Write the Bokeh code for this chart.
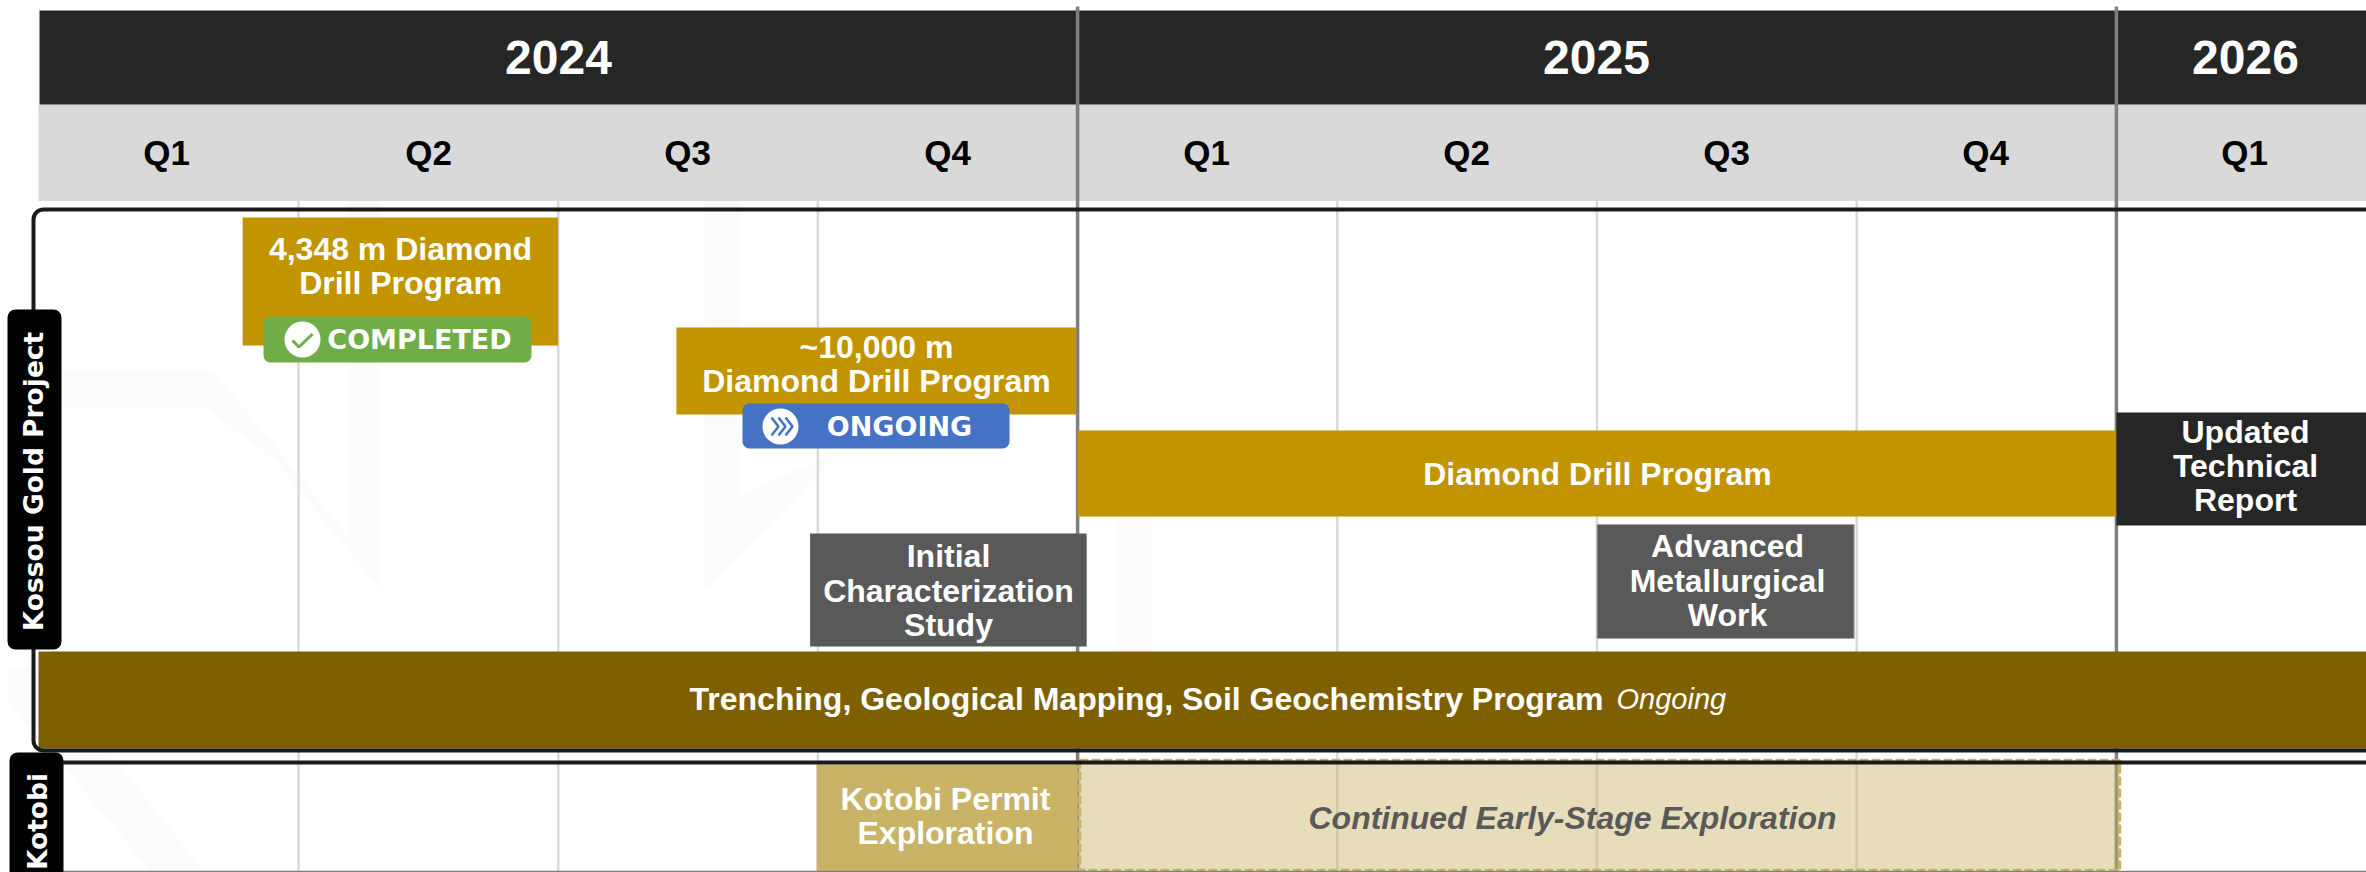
from math import pi
from bokeh.plotting import figure
from bokeh.models import Range1d
from bokeh.core.properties import value
from bokeh.embed import file_html
from bokeh.resources import INLINE

# ---- data: timeline in quarters since 2024 Q1 ----
years = ["2024", "2025", "2026"]
year_start = [0, 4, 8]
year_end = [4, 8, 9]
quarters = ["Q1", "Q2", "Q3", "Q4", "Q1", "Q2", "Q3", "Q4", "Q1"]
task_names = [
    ["4,348 m Diamond", "Drill Program"],
    ["~10,000 m", "Diamond Drill Program"],
    ["Diamond Drill Program"],
    ["Updated", "Technical", "Report"],
    ["Initial", "Characterization", "Study"],
    ["Advanced", "Metallurgical", "Work"],
    ["Kotobi Permit", "Exploration"],
]
task_start = [0.785, 2.455, 4.0, 8.0, 2.97, 6.0, 2.995]
task_end = [2.0, 3.995, 8.0, 9.0, 4.035, 6.99, 4.0]
projects = ["Kossou Gold Project", "Kotobi"]
trench_name = "Trenching, Geological Mapping, Soil Geochemistry Program"
trench_note = "Ongoing"
early_name = "Continued Early-Stage Exploration"
status_labels = ["COMPLETED", "ONGOING"]

# ---- layout ----
X0, QW = 38.3, 259.7
W, H = 2366, 872


def q(px):
    return (px - X0) / QW


task_top = [217, 327, 430, 412, 533, 524, 764]
task_bottom = [345, 414, 516, 525, 646, 638, 872]
task_color = ["#C29400", "#C29400", "#C29400", "#262626", "#595959", "#595959", "#C9B367"]
task_cx = [q(400), q(876), q(1597), q(2245), q(948), q(1727), q(945)]
task_cy = [265.5, 363.5, 473, 465.5, 590, 580, 815.5]
quarter_cx = [166, 428, 687, 947, 1206, 1466, 1726, 1985, 2244]
LH = 34.3
SANS = value("Liberation Sans")
BADGE = value("DejaVu Sans")

p = figure(width=W, height=H, x_range=Range1d(q(0), q(W)), y_range=Range1d(H, 0),
           toolbar_location=None, output_backend="svg", x_axis_type=None, y_axis_type=None,
           min_border=0, outline_line_color=None, background_fill_color="white")
p.grid.visible = False


def poly(pts):
    p.patch([q(a) for a, _ in pts], [b for _, b in pts], fill_color="#FBFBFB", line_color=None)


# faint watermark
poly([(40, 369), (212, 369), (347, 535), (347, 200), (380, 200), (380, 590), (275, 460), (204, 407), (40, 407)])
poly([(704, 200), (740, 200), (740, 495), (843, 448), (704, 590)])
poly([(1116, 516), (1152, 516), (1152, 660), (1116, 660)])
poly([(8, 667), (40, 667), (204, 871), (150, 871), (8, 700)])

# gridlines
for i in [1, 2, 3, 5, 6, 7]:
    p.segment([i], [200], [i], [871], line_color="#D9D9D9", line_width=2.5)

# header bands
p.quad(left=q(38), right=q(W), top=104, bottom=200.5, fill_color="#D9D9D9", line_color=None)
p.quad(left=[max(s, q(39)) for s in year_start], right=[min(e, q(W)) for e in year_end],
       top=10, bottom=104, fill_color="#262626", line_color=None)
p.text([q(558), q(1596), q(2245)], [57] * 3, text=years, text_font=SANS, text_font_style="bold",
       text_font_size="48px", text_color="white", text_align="center", text_baseline="middle")
p.text([q(c) for c in quarter_cx], [152] * len(quarters), text=quarters, text_font=SANS,
       text_font_style="bold", text_font_size="35px", text_color="black", text_align="center",
       text_baseline="middle")

# year dividers
for i in [4, 8]:
    p.segment([i], [6], [i], [871], line_color="#7F7F7F", line_width=3.5)

# bars
p.quad(left=task_start, right=task_end, top=task_top, bottom=task_bottom, fill_color=task_color,
       line_color=None)
p.quad(left=[6.0], right=[6.99], top=[524], bottom=[638], fill_color="#595959", line_color="#A6A6A6",
       line_width=1)
p.quad(left=[q(1079)], right=[q(2119)], top=[760], bottom=[870], fill_color="#C9B367", fill_alpha=0.45,
       line_color="#C9B367", line_width=3.5, line_dash="9 3")
p.quad(left=[q(38)], right=[q(W)], top=[651], bottom=[748], fill_color="#7F6000", line_color=None)

# frames
p.quad(left=[q(33)], right=[q(2500)], top=[209], bottom=[750], fill_color=None, line_color="#1A1A1A",
       line_width=4, border_radius=10)
p.segment([q(60)], [762], [q(W)], [762], line_color="#1A1A1A", line_width=4)
p.segment([q(60)], [871], [q(W)], [871], line_color="#7F7F7F", line_width=1.5)

# bar labels
xs, ys, ts = [], [], []
for names, cx, cy in zip(task_names, task_cx, task_cy):
    for k, t in enumerate(names):
        xs.append(cx)
        ys.append(cy + (k - (len(names) - 1) / 2) * LH)
        ts.append(t)
p.text(xs, ys, text=ts, text_font=SANS, text_font_style="bold", text_font_size="32px", text_color="white",
       text_align="center", text_baseline="middle")
p.text([q(689)], [698.5], text=[trench_name], text_font=SANS, text_font_style="bold", text_font_size="32px",
       text_color="white", text_align="left", text_baseline="middle")
p.text([q(1616)], [698.5], text=[trench_note], text_font=SANS, text_font_style="italic", text_font_size="29px",
       text_color="white", text_align="left", text_baseline="middle")
p.text([q(1572)], [817], text=[early_name], text_font=SANS, text_font_style="bold italic", text_font_size="32px",
       text_color="#595959", text_align="center", text_baseline="middle")

# status badges
p.quad(left=[q(263)], right=[q(531)], top=[316], bottom=[362], fill_color="#70AD47", line_color=None,
       border_radius=7)
p.quad(left=[q(742)], right=[q(1009)], top=[403], bottom=[448], fill_color="#4472C4", line_color=None,
       border_radius=7)
p.scatter([q(302), q(780)], [339, 426], size=36, marker="circle", fill_color="white", line_color=None)
p.line([q(292), q(298.5), q(312)], [340, 346.5, 333.5], line_color="#70AD47", line_width=3)
for dx in [0, 7, 14]:
    p.line([q(771 + dx), q(778 + dx), q(771 + dx)], [417, 426, 435], line_color="#4472C4", line_width=2.5)
p.text([q(419), q(899)], [338.5, 425.5], text=status_labels, text_font=BADGE, text_font_style="bold",
       text_font_size="27px", text_color="white", text_align="center", text_baseline="middle")

# project tags
p.quad(left=[q(7), q(9)], right=[q(61), q(63)], top=[309, 752], bottom=[649, 885], fill_color="black",
       line_color=None, border_radius=8)
p.text([q(33), q(37)], [481, 821], text=projects, angle=pi / 2, text_font=BADGE, text_font_style="bold",
       text_font_size="26.5px", text_color="white", text_align="center", text_baseline="middle")

open("out.html", "w").write(file_html(p, INLINE))
